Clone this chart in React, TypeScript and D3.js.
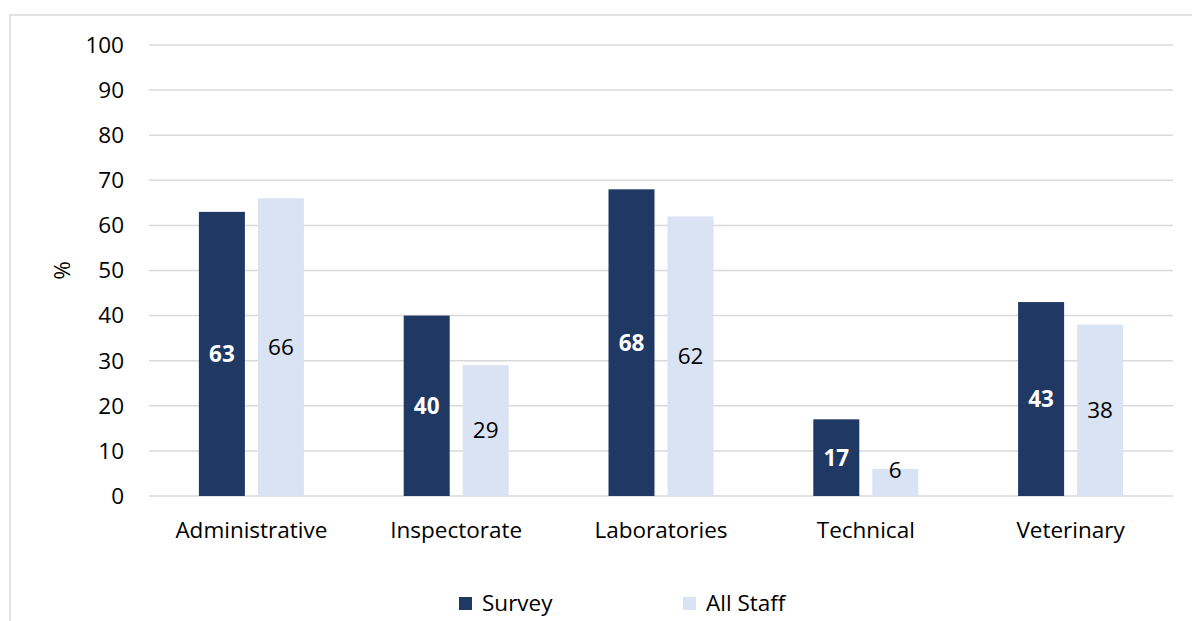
import React from "react";
import * as d3 from "d3";

const categories = ["Administrative", "Inspectorate", "Laboratories", "Technical", "Veterinary"];
const surveyValues = [63, 40, 68, 17, 43];
const allStaffValues = [66, 29, 62, 6, 38];
const seriesNames = ["Survey", "All Staff"];
const yTicks = [0, 10, 20, 30, 40, 50, 60, 70, 80, 90, 100];

const W = 1192;
const H = 621;
const FONT = "'Open Sans', sans-serif";
const FS = 22.5;
const DARK = "#203864";
const LIGHT = "#dae3f3";
const GRID = "#d9d9d9";

export default function App() {
  const x0 = d3.scaleBand().domain(categories).range([149, 1173]);
  const y = d3.scaleLinear().domain([0, 100]).range([496, 45]);
  const barW = 46;
  const gap = 13;
  const series = [surveyValues, allStaffValues];
  const colors = [DARK, LIGHT];

  return (
    <svg width={W} height={H} style={{ position: "absolute", left: 0, top: 0, background: "#fff" }} fontFamily={FONT}>
      <rect x={10} y={15} width={1400} height={800} fill="#fff" stroke={GRID} strokeWidth={1.5} />
      {yTicks.map((t) => (
        <g key={t}>
          <line x1={149} x2={1173} y1={y(t)} y2={y(t)} stroke={GRID} strokeWidth={1.5} />
          <text x={124} y={y(t)} dy="0.35em" textAnchor="end" fontSize={FS} fill="#000">
            {t}
          </text>
        </g>
      ))}
      <text transform={`translate(62,${y(50)}) rotate(-90)`} textAnchor="middle" dy="0.35em" fontSize={FS} fill="#000">
        %
      </text>
      {categories.map((c, i) => {
        const cx = (x0(c) as number) + x0.bandwidth() / 2;
        const left = cx - barW - gap / 2;
        return (
          <g key={c}>
            {series.map((vals, s) => {
              const bx = left + s * (barW + gap);
              const v = vals[i];
              const top = y(v);
              const bottom = y(0);
              const ly = Math.min((top + bottom) / 2, bottom - 26);
              return (
                <g key={s}>
                  <rect x={bx} y={top} width={barW} height={bottom - top} fill={colors[s]} />
                  <text
                    x={bx + barW / 2}
                    y={ly}
                    dy="0.35em"
                    textAnchor="middle"
                    fontSize={FS}
                    fontWeight={s === 0 ? 700 : 400}
                    fill={s === 0 ? "#fff" : "#000"}
                  >
                    {v}
                  </text>
                </g>
              );
            })}
            <text x={cx} y={530} dy="0.35em" textAnchor="middle" fontSize={FS} fill="#000">
              {c}
            </text>
          </g>
        );
      })}
      {seriesNames.map((n, s) => {
        const lx = s === 0 ? 459 : 683;
        return (
          <g key={n}>
            <rect x={lx} y={597} width={13} height={13} fill={colors[s]} />
            <text x={lx + 23} y={603} dy="0.35em" fontSize={FS} fill="#000">
              {n}
            </text>
          </g>
        );
      })}
    </svg>
  );
}
